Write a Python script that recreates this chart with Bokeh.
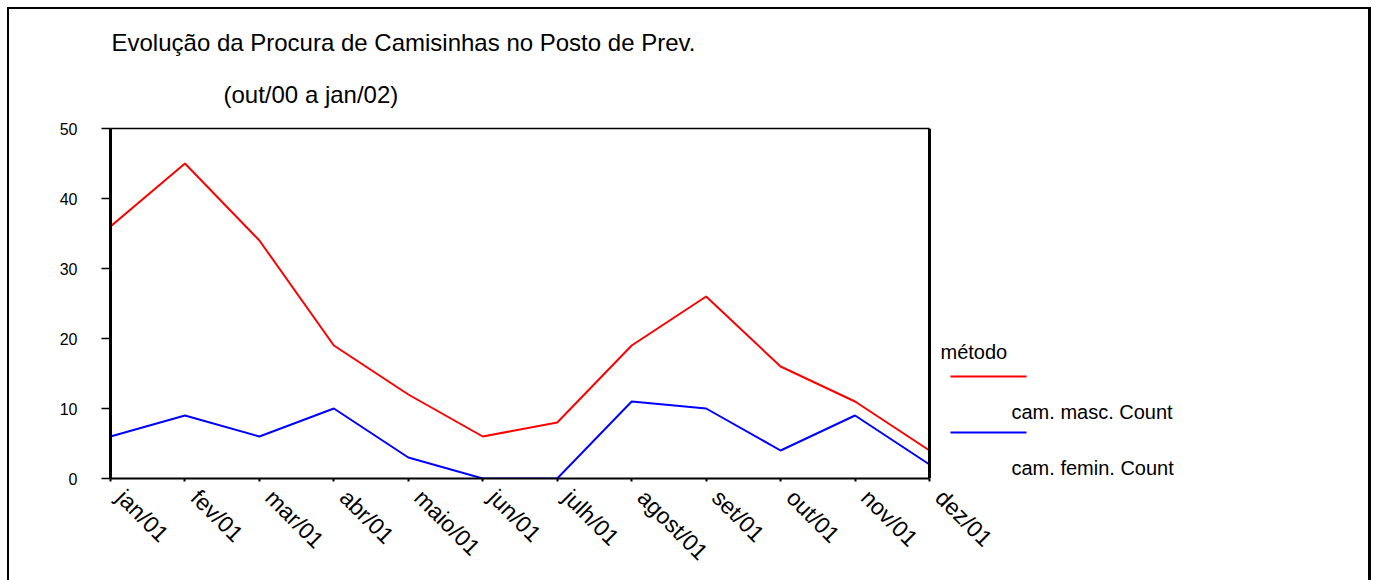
from bokeh.plotting import figure
from bokeh.models import Range1d, FixedTicker, LinearAxis, Span, Label, Arrow
from bokeh.layouts import column
from bokeh.core.properties import value
from bokeh.embed import file_html
from bokeh.resources import INLINE

# ---- data ----
months = ["jan/01", "fev/01", "mar/01", "abr/01", "maio/01", "jun/01",
          "julh/01", "agost/01", "set/01", "out/01", "nov/01", "dez/01"]
masc = [36, 45, 34, 19, 12, 6, 8, 19, 26, 16, 11, 4]
femin = [6, 9, 6, 10, 3, 0, 0, 11, 10, 4, 9, 2]
y_ticks = [0, 10, 20, 30, 40, 50]
title_text = "Evolução da Procura de Camisinhas no Posto de Prev."
subtitle_text = "(out/00 a jan/02)"
legend_title = "método"
series_names = ["cam. masc. Count", "cam. femin. Count"]
colors = ["#FF0000", "#0000FF"]

FONT = "Liberation Sans"
xs = list(range(len(months)))
x_last = len(months) - 1

# ---- title strip (page pixel coordinates; its frame is aligned with the chart frame) ----
t = figure(width=1359, height=110, x_range=Range1d(110, 1368), y_range=Range1d(119, 9),
           min_border=0, x_axis_location=None, y_axis_location=None,
           output_backend="svg", toolbar_location=None, title=None)
t.outline_line_color = None
t.grid.visible = False
t.text(x=[111, 223], y=[42, 94], text=[title_text, subtitle_text],
       text_font=value(FONT), text_font_size=value("24px"),
       text_baseline="alphabetic", text_align="left", text_color="black")

# ---- main chart: the frame runs on to the right edge, the data area is 0..11 ----
PLOT_W = 819          # pixel width of the month axis
FRAME_W = 1258        # frame width including legend area
x_end = x_last * FRAME_W / PLOT_W
p = figure(frame_width=FRAME_W, frame_height=350,
           min_border_left=101, min_border_right=0,
           min_border_top=9, min_border_bottom=102,
           x_range=Range1d(0, x_end), y_range=Range1d(0, 50),
           output_backend="svg", toolbar_location=None, title=None)
p.background_fill_color = "white"
p.border_fill_color = "white"
p.outline_line_color = None
p.xgrid.visible = False
p.ygrid.visible = False

p.line(xs, masc, line_color=colors[0], line_width=2)
p.line(xs, femin, line_color=colors[1], line_width=2)

# axis line and tick marks (labels come from the axis below)
xa = p.xaxis[0]
xa.bounds = (0, x_last)
xa.ticker = FixedTicker(ticks=xs)
xa.axis_line_color = "black"
xa.axis_line_width = 2
xa.major_tick_in = 0
xa.major_tick_out = 3
xa.major_tick_line_width = 2
xa.minor_tick_line_color = None
xa.major_label_text_color = None
xa.major_label_text_font_size = "1px"
xa.major_label_standoff = 0

# month labels, nudged a little to the right of their ticks as in the original
shift = 10 * x_end / FRAME_W
p.extra_x_ranges = {"labels": Range1d(-shift, x_end - shift)}
lab = LinearAxis(x_range_name="labels", ticker=FixedTicker(ticks=xs),
                 major_label_overrides={i: m for i, m in enumerate(months)},
                 major_label_orientation=-0.785398,
                 axis_line_color=None, major_tick_line_color=None,
                 minor_tick_line_color=None, major_tick_in=0, major_tick_out=0,
                 major_label_text_font=FONT, major_label_text_font_size="23px",
                 major_label_text_color="black", major_label_standoff=12)
p.add_layout(lab, "below")

ya = p.yaxis[0]
ya.ticker = FixedTicker(ticks=y_ticks)
ya.axis_line_color = "black"
ya.axis_line_width = 3
ya.major_tick_in = 0
ya.major_tick_out = 9
ya.major_tick_line_width = 1.5
ya.minor_tick_line_color = None
ya.major_label_text_font = FONT
ya.major_label_text_font_size = "16px"
ya.major_label_text_color = "black"
ya.major_label_standoff = 24

# top border of the plot area
top = LinearAxis(bounds=(0, x_last), ticker=FixedTicker(ticks=[]),
                 major_label_text_color=None, major_label_text_font_size="1px",
                 major_tick_in=0, major_tick_out=0,
                 minor_tick_line_color=None, axis_line_width=1.5, axis_line_color="black",
                 major_label_standoff=0, axis_label_standoff=0)
p.add_layout(top, "above")
# right border of the plot area
p.add_layout(Span(location=x_last, dimension="height", line_color="black", line_width=3))

# ---- legend (screen px from the frame's bottom-left) ----
p.add_layout(Label(x=830, y=127, x_units="screen", y_units="screen", text=legend_title,
                   text_font=FONT, text_font_size="20px", text_baseline="alphabetic",
                   text_color="black"))
for i, (name, col) in enumerate(zip(series_names, colors)):
    ly = 102 - 56 * i
    p.add_layout(Arrow(x_start=840, y_start=ly, x_end=916, y_end=ly,
                       start_units="screen", end_units="screen", end=None,
                       line_color=col, line_width=2))
    p.add_layout(Label(x=901, y=ly - 35, x_units="screen", y_units="screen", text=name,
                       text_font=FONT, text_font_size="20px", text_baseline="alphabetic",
                       text_color="black"))

layout = column(t, p, spacing=0,
                styles={"margin-left": "7px", "margin-top": "7px",
                        "border-left": "2px solid black", "border-top": "2px solid black",
                        "border-right": "3px solid black"})

open("out.html", "w").write(file_html(layout, INLINE))
